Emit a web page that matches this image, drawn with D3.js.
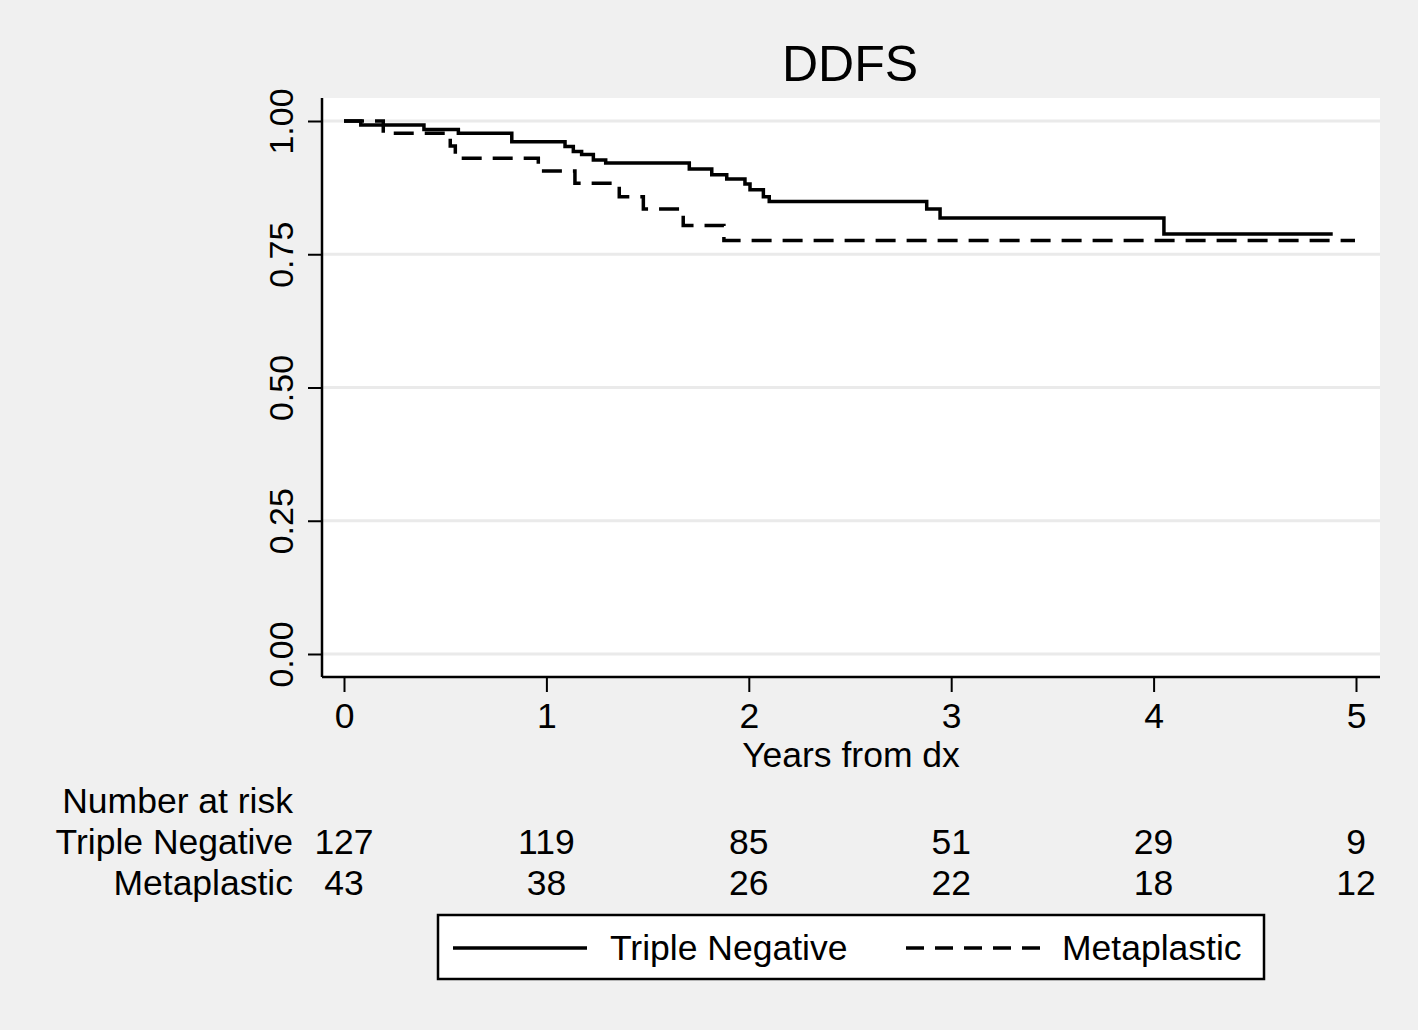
<!DOCTYPE html>
<html>
<head>
<meta charset="utf-8">
<script src="https://cdn.jsdelivr.net/npm/d3@7"></script>
<style>
  body { margin: 0; background: #f0f0f0; }
  text { font-family: "Liberation Sans", Arial, sans-serif; fill: #000; }
</style>
</head>
<body>
<svg id="chart" width="1418" height="1030"></svg>
<script>
// Kaplan-Meier steps
const tnTimes = [0, 0.083, 0.395, 0.565, 0.829, 1.092, 1.133, 1.174, 1.232, 1.293, 1.706, 1.817, 1.891, 1.981, 2.006, 2.072, 2.101, 2.879, 2.945, 4.051, 4.885]
const tnSurv  = [1, 0.9925, 0.984, 0.977, 0.961, 0.952, 0.943, 0.937, 0.927, 0.921, 0.910, 0.899, 0.891, 0.882, 0.871, 0.858, 0.849, 0.835, 0.818, 0.788, 0.788]
const mpTimes = [0, 0.194, 0.525, 0.55, 0.96, 1.141, 1.36, 1.479, 1.676, 1.877, 4.995]
const mpSurv  = [1, 0.977, 0.953, 0.930, 0.906, 0.883, 0.858, 0.835, 0.804, 0.776, 0.776]

const xTicks = [0, 1, 2, 3, 4, 5]
const yTicks = [0, 0.25, 0.5, 0.75, 1]
const groups = ['Triple Negative', 'Metaplastic']
const riskTN = [127, 119, 85, 51, 29, 9]
const riskMP = [43, 38, 26, 22, 18, 12]

const svg = d3.select('#chart')
const plot = {left: 322, right: 1380, top: 98, bottom: 677}
const fs = '35.5px'

const x = d3.scaleLinear().domain([0, 5]).range([344, 1356])
const y = d3.scaleLinear().domain([0, 1]).range([654, 121])

svg.append('rect').attr('width', 1418).attr('height', 1030).attr('fill', '#f0f0f0')
svg.append('rect')
  .attr('x', plot.left).attr('y', plot.top)
  .attr('width', plot.right - plot.left).attr('height', plot.bottom - plot.top)
  .attr('fill', '#fff')

// grid
svg.append('g').selectAll('line').data(yTicks).enter().append('line')
  .attr('x1', plot.left).attr('x2', plot.right)
  .attr('y1', d => y(d)).attr('y2', d => y(d))
  .attr('stroke', '#eaeaea').attr('stroke-width', 3)

// axes
const yAxis = svg.append('g').attr('transform', `translate(${plot.left},0)`)
  .call(d3.axisLeft(y).tickValues(yTicks).tickFormat(d3.format('.2f')).tickSize(14).tickPadding(0))
yAxis.select('.domain').attr('d', `M0,${plot.top}V${plot.bottom}`).attr('stroke-width', 2.5)
yAxis.selectAll('.tick line').attr('stroke-width', 2)
yAxis.selectAll('.tick text')
  .attr('x', 0).attr('dy', 0)
  .attr('transform', 'translate(-29,0) rotate(-90)')
  .attr('text-anchor', 'middle')
  .style('font-size', '34px').style('font-family', '"Liberation Sans", Arial, sans-serif')

const xAxis = svg.append('g').attr('transform', `translate(0,${plot.bottom})`)
  .call(d3.axisBottom(x).tickValues(xTicks).tickFormat(d3.format('d')).tickSize(15).tickPadding(0))
xAxis.select('.domain').attr('d', `M${plot.left},0H${plot.right}`).attr('stroke-width', 2.5)
xAxis.selectAll('.tick line').attr('stroke-width', 2)
xAxis.selectAll('.tick text').attr('y', 51).attr('dy', 0)
  .style('font-size', fs).style('font-family', '"Liberation Sans", Arial, sans-serif')
svg.selectAll('.domain, .tick line').attr('stroke', '#000')
svg.selectAll('.tick text').attr('fill', '#000')

svg.append('text').attr('x', 851).attr('y', 767).attr('text-anchor', 'middle')
  .style('font-size', fs).text('Years from dx')

svg.append('text').attr('x', 850).attr('y', 81).attr('text-anchor', 'middle')
  .style('font-size', '50px').text('DDFS')

// survival curves
const line = d3.line().x(d => x(d[0])).y(d => y(d[1])).curve(d3.curveStepAfter)
svg.append('path').datum(d3.zip(tnTimes, tnSurv))
  .attr('d', line).attr('fill', 'none').attr('stroke', '#000').attr('stroke-width', 3.5)
svg.append('path').datum(d3.zip(mpTimes, mpSurv))
  .attr('d', line).attr('fill', 'none').attr('stroke', '#000').attr('stroke-width', 3.5)
  .attr('stroke-dasharray', '20,11')

// number at risk table
svg.append('text').attr('x', 293).attr('y', 813).attr('text-anchor', 'end')
  .style('font-size', fs).text('Number at risk')
const rows = [[groups[0], riskTN, 854], [groups[1], riskMP, 895]]
rows.forEach(r => {
  svg.append('text').attr('x', 293).attr('y', r[2]).attr('text-anchor', 'end')
    .style('font-size', fs).text(r[0])
  svg.append('g').selectAll('text').data(r[1]).enter().append('text')
    .attr('x', (d, i) => x(xTicks[i])).attr('y', r[2]).attr('text-anchor', 'middle')
    .style('font-size', fs).text(d => d)
})

// legend
const leg = svg.append('g')
leg.append('rect').attr('x', 438).attr('y', 915).attr('width', 826).attr('height', 64)
  .attr('fill', '#fff').attr('stroke', '#000').attr('stroke-width', 2.5)
leg.append('line').attr('x1', 453).attr('x2', 587).attr('y1', 948).attr('y2', 948)
  .attr('stroke', '#000').attr('stroke-width', 3.5)
leg.append('text').attr('x', 610).attr('y', 960).style('font-size', fs).text(groups[0])
leg.append('line').attr('x1', 906).attr('x2', 1040).attr('y1', 948).attr('y2', 948)
  .attr('stroke', '#000').attr('stroke-width', 3.5).attr('stroke-dasharray', '18,11')
leg.append('text').attr('x', 1062).attr('y', 960).style('font-size', fs).text(groups[1])
</script>
</body>
</html>
